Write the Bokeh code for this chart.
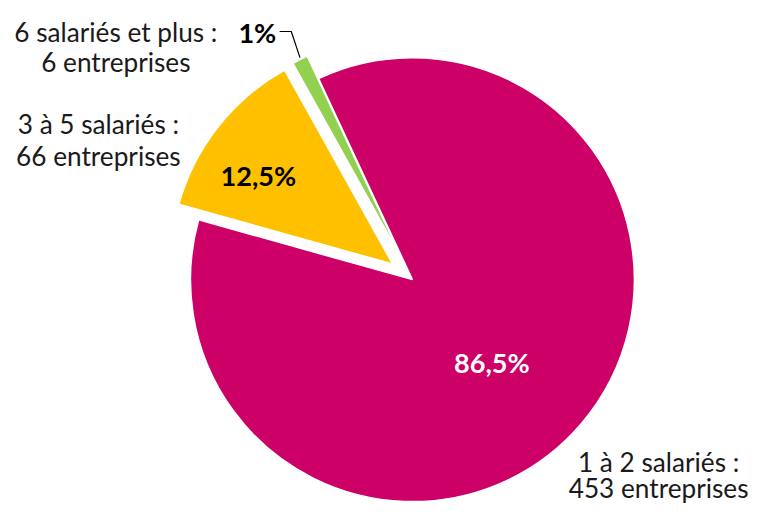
import math
from bokeh.plotting import figure
from bokeh.models import Range1d, ColumnDataSource
from bokeh.core.properties import value
from bokeh.embed import file_html
from bokeh.resources import INLINE

# ---- data ----
categories = ["1 à 2 salariés", "3 à 5 salariés", "6 salariés et plus"]
counts = [453, 66, 6]
pct_labels = ["86,5%", "12,5%", "1%"]
colors = ["#CC0066", "#FFC000", "#92D050"]
exploded = [False, True, True]

# ---- layout ----
W, H = 761, 504
CX, CY = 425, -288          # pie centre (reference px, y down -> negative)
R = 229
EXPLODE = 26
START = math.radians(335)   # clockwise from 12 o'clock
FONT = "Lato"
S = H / 520.0               # uniform scale so the whole fits

p = figure(width=W, height=H, output_backend="svg", toolbar_location=None,
           x_range=Range1d(0, W / S), y_range=Range1d(-520, 0),
           min_border=0, outline_line_color=None)
p.axis.visible = False
p.grid.visible = False
p.background_fill_color = "white"

total = sum(counts)
theta = START
xs, ys, sa, ea, mids = [], [], [], [], []
for c, ex in zip(counts, exploded):
    span = 2 * math.pi * c / total
    t1, t2 = theta, theta + span
    mid = (t1 + t2) / 2
    off = EXPLODE if ex else 0
    xs.append(CX + off * math.sin(mid))
    ys.append(CY + off * math.cos(mid))
    sa.append(math.pi / 2 - t2)
    ea.append(math.pi / 2 - t1)
    mids.append(mid)
    theta = t2

src = ColumnDataSource(dict(x=xs, y=ys, start=sa, end=ea, color=colors))
p.wedge(x="x", y="y", radius=R, start_angle="start", end_angle="end",
        fill_color="color", line_color="white", line_width=1.5, source=src)

fs_pct = f"{28 * S:.1f}px"
fs_cat = f"{27 * S:.1f}px"

# percentage labels
pct_pos = [(507, -373, "white"), (266, -181, "black"), (265, -33, "black")]
for lab, (lx, ly, col) in zip(pct_labels, pct_pos):
    p.text(x=[lx], y=[ly], text=[lab], text_font=value(FONT), text_font_style="bold",
           text_font_size=fs_pct, text_color=col, text_align="center",
           text_baseline="alphabetic")

# leader line for the small slice
gx = xs[2] + R * math.sin(mids[2])
gy = ys[2] + R * math.cos(mids[2])
p.line(x=[288, 300, gx], y=[-32, -32, gy + 2], line_color="black", line_width=1.2)

# category labels
cat_pos = [(679, -476, -503), (101, -127, -160), (119, -32, -63)]
for cat, n, (lx, y1, y2) in zip(categories, counts, cat_pos):
    for txt, yy in ((cat + " :", y1), (f"{n} entreprises", y2)):
        p.text(x=[lx], y=[yy], text=[txt], text_font=value(FONT),
               text_font_size=fs_cat, text_color="#1a1a1a", text_align="center",
               text_baseline="alphabetic")

open("out.html", "w").write(file_html(p, INLINE))
